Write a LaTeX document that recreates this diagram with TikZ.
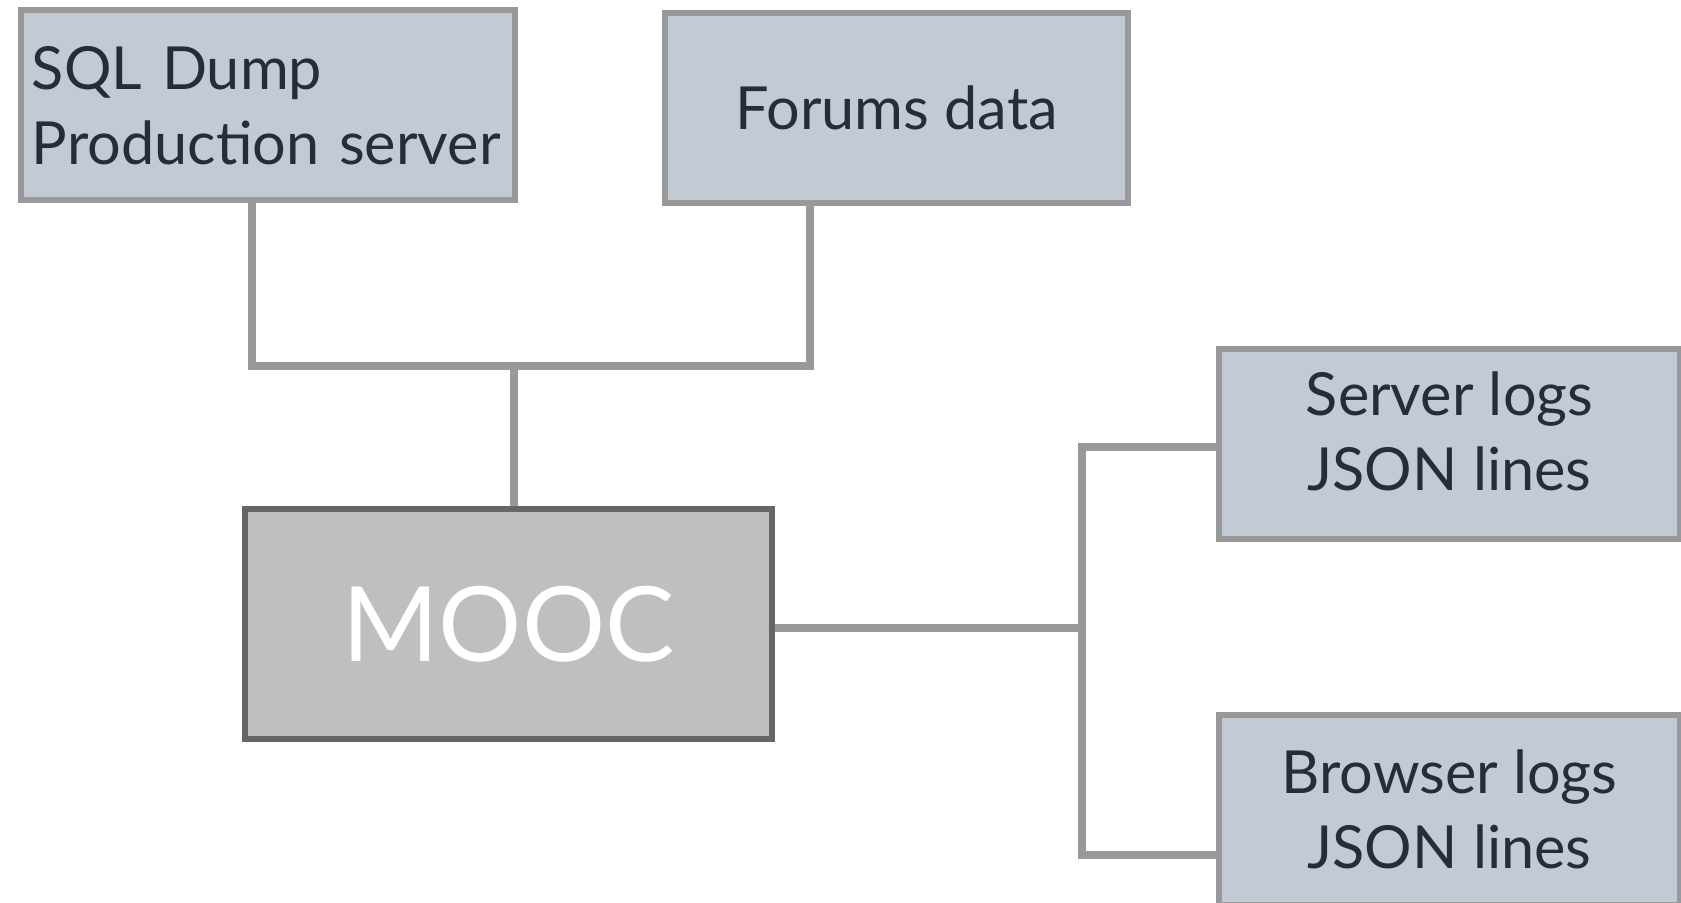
\documentclass[tikz,border=0pt]{standalone}
\usepackage{fontspec}
\setmainfont{Lato}
\usetikzlibrary{positioning}

\definecolor{boxfill}{RGB}{194,202,214}
\definecolor{boxline}{RGB}{153,153,153}
\definecolor{moocfill}{RGB}{191,191,191}
\definecolor{moocline}{RGB}{102,102,102}
\definecolor{ink}{RGB}{37,45,56}

\begin{document}
\begin{tikzpicture}[
        x = 0.5pt, y = -0.5pt,
        srcbox/.style = {draw = boxline, line width = 3pt, fill = boxfill, text = ink,
            font = \fontsize{29.7}{37.5}\selectfont, align = center,
            minimum height = 95pt, inner sep = 0pt},
        logbox/.style = {srcbox, minimum width = 230.5pt},
        moocbox/.style = {draw = moocline, line width = 3pt, fill = moocfill, text = white,
            font = \fontsize{52}{60}\selectfont, minimum width = 263.5pt, minimum height = 115pt},
        link/.style = {draw = boxline, line width = 4pt}
    ]
      \useasboundingbox (0,0) rectangle (1681,903);

      \node[srcbox, minimum width = 247pt, text width = 236pt, align = left] (sql) at (268,105.5) {SQL Dump\\Production server};
      \node[srcbox, minimum width = 231.5pt] (forums) at (896.5,108) {Forums data};
      \node[moocbox] (mooc) at (508.5,624) {MOOC};
      \node[logbox, text depth = 13pt] (srv) at (1449.5,444) {Server logs\\JSON lines};
      \node[logbox] (brw) at (1449.5,809.5) {Browser logs\\JSON lines};

      \coordinate (join) at (514,366.5);
      \coordinate (split) at (1082,628);

      \draw[link] ([xshift = -8pt]sql.south) |- (join) -| ([xshift = -43.25pt]forums.south);
      \draw[link] (join) -- (join |- mooc.north);
      \draw[link] (mooc.east |- split) -- (split);
      \draw[link] ([yshift = -1.5pt]srv.west) -| (split) |- ([yshift = -22.5pt]brw.west);
    \end{tikzpicture}
\end{document}
